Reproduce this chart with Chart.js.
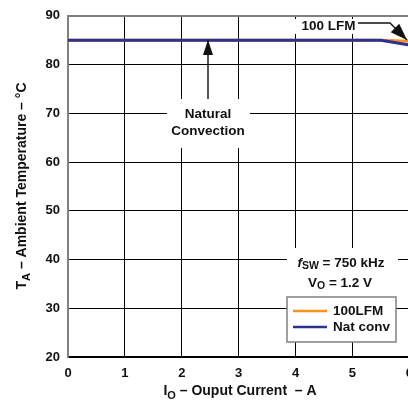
<!DOCTYPE html>
<html>
<head>
<meta charset="utf-8">
<script src="https://cdn.jsdelivr.net/npm/chart.js@4"></script>
<style>
html, body { margin: 0; padding: 0; overflow: hidden; background: #fff; }
#wrap { width: 408px; height: 401px; overflow: hidden; }
canvas { display: block; }
</style>
</head>
<body>
<div id="wrap"><canvas id="derating" width="422" height="401"></canvas></div>
<script>
// Safe operating area data
const currentA = [0, 1, 2, 3, 4, 5, 5.5, 6];
const natConvTemp = [85, 85, 85, 85, 85, 85, 85, 84];
const lfm100Temp = [85, 85, 85, 85, 85, 85, 85, 84.8];
const xTickLabels = ['0', '1', '2', '3', '4', '5', '6'];
const yTickLabels = ['20', '30', '40', '50', '60', '70', '80', '90'];

const FONT = '"Liberation Sans", Arial, sans-serif';
const color_orange = '#f7941d';
const color_blue = '#2e3192';

function fnt(size, italic) {
    return (italic ? 'italic ' : '') + 'bold ' + size + 'px ' + FONT;
}

// draw a row of text pieces (for subscripts), centred on cx
function drawRuns(ctx, parts, cx, cy) {
    let w = 0;
    parts.forEach(p => { ctx.font = fnt(p.s, p.i); p.w = ctx.measureText(p.t).width; w += p.w; });
    let x = cx - w / 2;
    ctx.textAlign = 'left';
    ctx.textBaseline = 'middle';
    parts.forEach(p => {
        ctx.font = fnt(p.s, p.i);
        ctx.fillText(p.t, x, cy + (p.dy || 0));
        x += p.w;
    });
}

function arrow(ctx, pts, len, half) {
    ctx.beginPath();
    ctx.moveTo(pts[0][0], pts[0][1]);
    for (let i = 1; i < pts.length; i++) ctx.lineTo(pts[i][0], pts[i][1]);
    ctx.stroke();
    const a = pts[pts.length - 2], b = pts[pts.length - 1];
    const ang = Math.atan2(b[1] - a[1], b[0] - a[0]);
    ctx.save();
    ctx.translate(b[0], b[1]);
    ctx.rotate(ang);
    ctx.beginPath();
    ctx.moveTo(0, 0);
    ctx.lineTo(-len, -half);
    ctx.lineTo(-len, half);
    ctx.closePath();
    ctx.fill();
    ctx.restore();
}

const annotations = {
    id: 'annotations',
    beforeDatasetsDraw(chart) {
        const ctx = chart.ctx;
        ctx.save();
        ctx.fillStyle = '#fff';
        ctx.fillRect(295, 19, 63, 15);     // 100 LFM label
        ctx.fillRect(167, 99, 83, 49);     // Natural Convection label
        ctx.fillRect(287, 248, 111, 49);   // fsw / Vo label
        ctx.restore();
    },
    afterDatasetsDraw(chart) {
        const ctx = chart.ctx;
        ctx.save();
        ctx.fillStyle = '#111';
        ctx.strokeStyle = '#111';
        ctx.lineWidth = 1.4;

        // 100 LFM
        ctx.font = fnt(13.5);
        ctx.textAlign = 'left';
        ctx.textBaseline = 'middle';
        ctx.fillText('100 LFM', 301.5, 26.5);
        arrow(ctx, [[358, 23], [390, 23], [407, 40]], 17, 6);

        // Natural Convection
        ctx.textAlign = 'center';
        ctx.fillText('Natural', 208, 114.5);
        ctx.fillText('Convection', 208, 131.5);
        arrow(ctx, [[208, 99], [208, 40]], 15, 5);

        // fsw, Vo
        drawRuns(ctx, [
            { t: 'f', s: 13.5, i: true },
            { t: 'SW', s: 10.5, dy: 3 },
            { t: ' = 750 kHz', s: 13.5 }
        ], 341, 263);
        drawRuns(ctx, [
            { t: 'V', s: 13.5 },
            { t: 'O', s: 10.5, dy: 3 },
            { t: ' = 1.2 V', s: 13.5 }
        ], 340, 283);

        // legend box
        ctx.fillStyle = '#fff';
        ctx.fillRect(287, 297, 109, 45);
        ctx.strokeStyle = '#808080';
        ctx.lineWidth = 1.5;
        ctx.strokeRect(287, 297, 109, 45);
        const legendOrder = [1, 0];
        legendOrder.forEach((di, k) => {
            const ds = chart.data.datasets[di];
            const y = 311 + k * 16;
            ctx.strokeStyle = ds.borderColor;
            ctx.lineWidth = 2.5;
            ctx.beginPath();
            ctx.moveTo(293, y);
            ctx.lineTo(327, y);
            ctx.stroke();
            ctx.fillStyle = '#111';
            ctx.font = fnt(13.5);
            ctx.textAlign = 'left';
            ctx.textBaseline = 'middle';
            ctx.fillText(ds.label, 333, y + 0.5);
        });

        // axis titles
        ctx.fillStyle = '#111';
        drawRuns(ctx, [
            { t: 'I', s: 14 },
            { t: 'O', s: 11, dy: 5 },
            { t: ' \u2013 Ouput Current  \u2013 A', s: 14 }
        ], 240, 391);
        ctx.save();
        ctx.translate(22, 186);
        ctx.rotate(-Math.PI / 2);
        drawRuns(ctx, [
            { t: 'T', s: 14 },
            { t: 'A', s: 11, dy: 5 },
            { t: ' \u2013 Ambient Temperature \u2013 \u00b0C', s: 14 }
        ], 0, 0);
        ctx.restore();
        ctx.restore();
    }
};

document.addEventListener('DOMContentLoaded', function () {
    const ctx = document.getElementById('derating').getContext('2d');
    new Chart(ctx, {
        type: 'line',
        data: {
            datasets: [
                {
                    label: 'Nat conv',
                    data: currentA.map((x, i) => ({ x: x, y: natConvTemp[i] })),
                    borderColor: color_blue,
                    borderWidth: 3,
                    pointRadius: 0,
                    order: 1,
                },
                {
                    label: '100LFM',
                    data: currentA.map((x, i) => ({ x: x, y: lfm100Temp[i] })),
                    borderColor: color_orange,
                    borderWidth: 3,
                    pointRadius: 0,
                    order: 2,
                },
            ],
        },
        options: {
            responsive: false,
            animation: false,
            devicePixelRatio: 1,
            layout: { padding: { top: 15, right: 10, left: 0, bottom: 0 } },
            plugins: { legend: { display: false }, tooltip: { enabled: false } },
            scales: {
                x: {
                    type: 'linear',
                    min: 0,
                    max: 6,
                    afterFit: s => { s.height = 44; },
                    afterBuildTicks: s => { s.ticks = xTickLabels.map(v => ({ value: Number(v) })); },
                    ticks: {
                        padding: 9,
                        color: '#111',
                        font: { family: FONT, size: 13, weight: 'bold' },
                        callback: (v, i) => xTickLabels[i],
                    },
                    grid: { color: '#000', lineWidth: 1, drawTicks: false },
                    border: { color: '#000', width: 1.5 },
                },
                y: {
                    min: 20,
                    max: 90,
                    afterFit: s => { s.width = 68; },
                    afterBuildTicks: s => { s.ticks = yTickLabels.map(v => ({ value: Number(v) })); },
                    ticks: {
                        padding: 8,
                        color: '#111',
                        font: { family: FONT, size: 13, weight: 'bold' },
                        callback: (v, i) => yTickLabels[i],
                    },
                    grid: {
                        color: c => (c.tick && c.tick.value === 90 ? '#808080' : '#000'),
                        lineWidth: c => (c.tick && c.tick.value === 90 ? 2 : 1),
                        drawTicks: false,
                    },
                    border: { color: '#808080', width: 2 },
                },
            },
        },
        plugins: [annotations],
    });
});
</script>
</body>
</html>
